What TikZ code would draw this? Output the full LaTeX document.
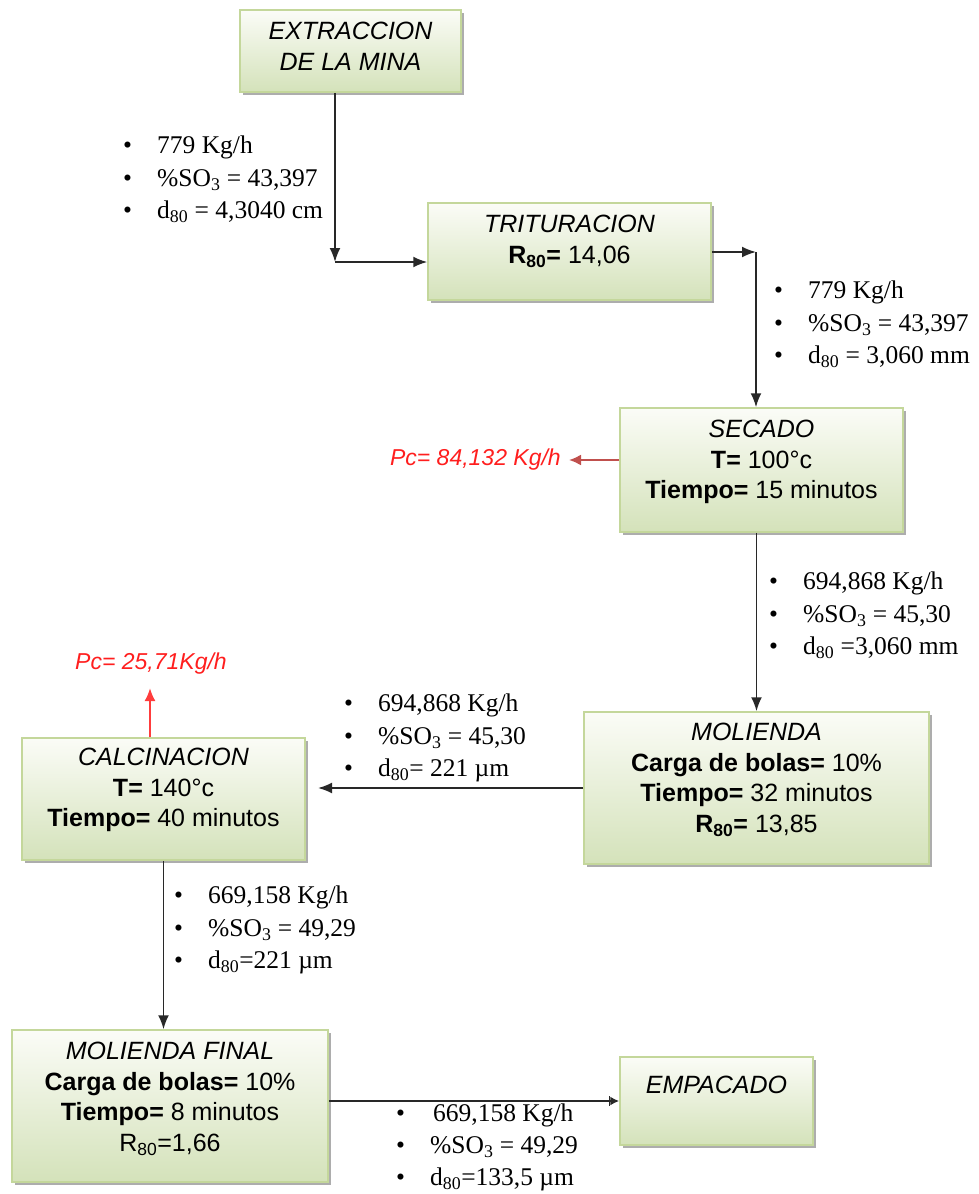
\documentclass[tikz,border=0pt]{standalone}
\usepackage{fontspec}
\setmainfont{Liberation Serif}
\newfontfamily\arialf{Liberation Sans}
\usetikzlibrary{arrows.meta,shadows}

\definecolor{boxtop}{RGB}{251,252,247}
\definecolor{boxbot}{RGB}{212,226,186}
\definecolor{boxedge}{RGB}{196,215,155}
\definecolor{lossred}{RGB}{255,30,30}
\definecolor{lossarrow}{RGB}{192,80,77}
\definecolor{lossarrowb}{RGB}{255,60,60}
\definecolor{flowline}{RGB}{40,40,40}

% bullet with a fixed indent for the stream data lists
\newcommand{\bul}{\makebox[34pt][l]{•}}

\begin{document}
\begin{tikzpicture}[x=1pt,y=-1pt,
  stage/.style={rectangle, draw=boxedge, line width=1.5pt,
    top color=boxtop, bottom color=boxbot, inner sep=0pt,
    drop shadow={shadow xshift=3pt, shadow yshift=-3pt, fill=black!40, opacity=0.8}},
  stagetext/.style={anchor=north, align=center, inner sep=0pt,
    font=\arialf\fontsize{25}{30.5}\selectfont},
  flowdata/.style={anchor=north west, align=left, inner sep=0pt,
    font=\fontsize{25.5}{32.5}\selectfont},
  flow/.style={draw=flowline, line width=1.8pt, -{Latex[length=14pt,width=11pt]}},
  loss/.style={text=lossred, inner sep=0pt,
    font=\arialf\itshape\fontsize{23}{26}\selectfont},
]
\useasboundingbox (0,0) rectangle (979,1194);

% ---- process stages ----
\node[stage, minimum width=221pt, minimum height=82pt]  (ext)  at (350.5,51)   {};
\node[stage, minimum width=283pt, minimum height=97pt]  (trit) at (569.5,251.5) {};
\node[stage, minimum width=283pt, minimum height=124pt] (sec)  at (761.5,470)  {};
\node[stage, minimum width=345pt, minimum height=152pt] (mol)  at (756.5,788)  {};
\node[stage, minimum width=283pt, minimum height=122pt] (calc) at (163.5,799)  {};
\node[stage, minimum width=316pt, minimum height=152pt] (molf) at (170,1106)   {};
\node[stage, minimum width=193pt, minimum height=88pt]  (emp)  at (716.5,1101) {};

\node[stagetext] (extT) at ([yshift=-13pt]ext.north)
  {\itshape EXTRACCION\\\itshape DE LA MINA};
\node[stagetext] (tritT) at ([yshift=-13pt]trit.north)
  {\itshape TRITURACION\\\textbf{R\textsubscript{80}=} 14,06};
\node[stagetext] (secT) at ([yshift=-13pt]sec.north)
  {\itshape SECADO\\\textbf{T=} 100°c\\\textbf{Tiempo=} 15 minutos};
\node[stagetext] (molT) at ([yshift=-12pt]mol.north)
  {\itshape MOLIENDA\\\textbf{Carga de bolas=} 10\%\\\textbf{Tiempo=} 32 minutos\\\textbf{R\textsubscript{80}=} 13,85};
\node[stagetext] (calcT) at ([yshift=-11pt]calc.north)
  {\itshape CALCINACION\\\textbf{T=} 140°c\\\textbf{Tiempo=} 40 minutos};
\node[stagetext] (molfT) at ([yshift=-13pt]molf.north)
  {\itshape MOLIENDA FINAL\\\textbf{Carga de bolas=} 10\%\\\textbf{Tiempo=} 8 minutos\\R\textsubscript{80}=1,66};
\node[stagetext] (empT) at ([yshift=-20pt]emp.north)
  {\itshape EMPACADO};

% ---- stream data ----
\node[flowdata] (d1) at (123,136)
  {\bul 779 Kg/h\\\bul \%SO\textsubscript{3} = 43,397\\\bul d\textsubscript{80} = 4,3040 cm};
\node[flowdata] (d2) at (774,281)
  {\bul 779 Kg/h\\\bul \%SO\textsubscript{3} = 43,397\\\bul d\textsubscript{80} = 3,060 mm};
\node[flowdata] (d3) at (769,572)
  {\bul 694,868 Kg/h\\\bul \%SO\textsubscript{3} = 45,30\\\bul d\textsubscript{80} =3,060 mm};
\node[flowdata] (d4) at (344,694)
  {\bul 694,868 Kg/h\\\bul \%SO\textsubscript{3} = 45,30\\\bul d\textsubscript{80}= 221 µm};
\node[flowdata] (d5) at (174,886)
  {\bul 669,158 Kg/h\\\bul \%SO\textsubscript{3} = 49,29\\\bul d\textsubscript{80}=221 µm};
\node[flowdata, font=\fontsize{25.5}{32}\selectfont] (d6) at (396,1104)
  {\bul\hspace{3pt}669,158 Kg/h\\\bul \%SO\textsubscript{3} = 49,29\\\bul d\textsubscript{80}=133,5 µm};

% ---- losses ----
\node[loss, anchor=east] (pc1) at (561,460) {Pc= 84,132 Kg/h};
\node[loss] (pc2) at (151,664) {Pc= 25,71Kg/h};
\coordinate (pc2tip) at (150,688);

% ---- connectors ----
\coordinate (c1) at (335,262);
\coordinate (c2) at (756,252);
\coordinate (calcin) at (318,788);

\draw[flow] (ext.south -| c1) -- (c1);
\draw[flow] (c1) -- (c1 -| trit.west);
\draw[flow] (trit.east |- c2) -- (c2);
\draw[flow] (c2) -- (c2 |- sec.north);
\draw[flow] (mol.north |- sec.south) -- (mol.north);
\draw[flow] (mol.west) -- (calcin);
\draw[flow] (calc.south) -- (calc.south |- molf.north);
\draw[draw=flowline, line width=1.8pt,
  -{Bar[width=10pt,line width=1.4pt] Latex[length=9pt,width=9pt]}]
  (emp.west -| molf.east) -- (emp.west);

\draw[draw=lossarrow, line width=2pt, -{Latex[length=12pt,width=11pt]}]
  (sec.west |- pc1.east) -- ([xshift=8pt]pc1.east);
\draw[draw=lossarrowb, line width=2pt, -{Latex[length=13pt,width=11pt]}]
  (pc2tip |- calc.north) -- (pc2tip);
\end{tikzpicture}
\end{document}
